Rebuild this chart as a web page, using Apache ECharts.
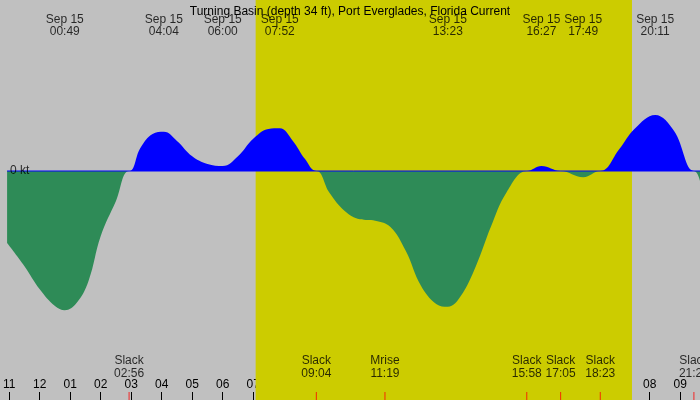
<!DOCTYPE html>
<html><head><meta charset="utf-8">
<script src="https://cdn.jsdelivr.net/npm/echarts@6/dist/echarts.min.js"></script>
<style>html,body{margin:0;padding:0;}#c{width:700px;height:400px;}</style>
</head><body><div id="c"></div>
<script>
// current speed curve (hour of day, kt)
const hours = [-1.07,-0.5,0,0.5,0.82,1.2,1.6,2.0,2.5,2.93,3.3,3.7,4.07,4.5,5.0,5.5,6.0,6.5,7.0,7.5,7.87,8.3,8.7,9.07,9.5,10.0,10.5,11.0,11.5,12.0,12.5,13.0,13.38,13.8,14.3,14.8,15.3,15.97,16.45,17.08,17.82,18.38,19.0,19.5,20.18,20.8,21.45,21.65];
const speeds = [-1.03,-1.36,-1.69,-1.93,-1.99,-1.89,-1.57,-0.93,-0.43,0,0.33,0.53,0.56,0.43,0.21,0.10,0.07,0.21,0.46,0.60,0.61,0.43,0.17,0,-0.31,-0.57,-0.69,-0.71,-0.80,-1.14,-1.64,-1.90,-1.94,-1.79,-1.36,-0.79,-0.31,0,0.07,0,-0.09,0,0.31,0.60,0.80,0.57,0,-0.14];
// top labels: max/min current times
const extremeLabels = ['00:49','04:04','06:00','07:52','13:23','16:27','17:49','20:11'];
const extremeHours = [0.82,4.07,6.0,7.87,13.38,16.45,17.82,20.18];
// bottom events
const eventNames = ['Slack','Slack','Mrise','Slack','Slack','Slack','Slack'];
const eventLabels = ['02:56','09:04','11:19','15:58','17:05','18:23','21:27'];
const eventHours = [2.93,9.07,11.32,15.97,17.08,18.38,21.45];
const tickHours = [-1,0,1,2,3,4,5,6,7,8,9,10,11,12,13,14,15,16,17,18,19,20,21];
const dayStart = 7.08, dayEnd = 19.42;
const title = 'Turning Basin (depth 34 ft), Port Everglades, Florida Current';

const PX = 70, Z = 171;
const yOf = p => (Z - p) / PX;
const font = '"Liberation Sans", "DejaVu Sans", sans-serif';
const hl = h => { const v = ((h % 12) + 12) % 12; return String(v === 0 ? 12 : v).padStart(2, '0'); };
const pos = hours.map((h, i) => [h, Math.max(speeds[i], 0)]);
const neg = hours.map((h, i) => [h, Math.min(speeds[i], 0)]);

const chart = echarts.init(document.getElementById('c'));
chart.setOption({
  animation: false,
  backgroundColor: '#c0c0c0',
  textStyle: { fontFamily: font },
  title: { text: title, left: 'center', top: 1, textStyle: { fontSize: 12, fontWeight: 'normal', color: '#000', fontFamily: font } },
  grid: { left: 0, right: 0, top: 0, bottom: 0 },
  xAxis: {
    type: 'value', min: -1.07, max: 21.65,
    splitLine: { show: false }, axisLine: { show: false, onZero: false },
    axisTick: { show: true, inside: true, length: 8, customValues: tickHours, lineStyle: { color: '#000' } },
    axisLabel: { show: true, inside: true, margin: 9, customValues: tickHours, formatter: v => hl(Math.round(v)), color: '#000', fontSize: 12, fontFamily: font }
  },
  yAxis: { type: 'value', min: yOf(400), max: yOf(0), show: false, splitLine: { show: false }, axisLine: { onZero: false } },
  series: [
    {
      type: 'line', smooth: 0.4, symbol: 'none', data: pos,
      lineStyle: { width: 0 }, areaStyle: { opacity: 1, color: '#0000ff' },
      markArea: { silent: true, itemStyle: { color: '#cccc00' }, data: [[{ xAxis: dayStart }, { xAxis: dayEnd }]] },
      z: 2
    },
    {
      type: 'line', smooth: 0.4, symbol: 'none', data: neg,
      lineStyle: { width: 0 }, areaStyle: { opacity: 1, color: '#2e8b57' }, z: 2
    },
    {
      type: 'line', symbol: 'none', data: [[-1.07, 0], [21.65, 0]],
      lineStyle: { width: 1, color: '#0000ff' }, z: 3, silent: true
    },
    {
      type: 'scatter', symbolSize: 0, silent: true, z: 5,
      data: extremeHours.map(h => [h, yOf(26)]),
      label: { show: true, position: 'inside', color: '#000', fontSize: 12, lineHeight: 12, fontFamily: font,
        formatter: p => 'Sep 15\n' + extremeLabels[p.dataIndex] }
    },
    {
      type: 'scatter', symbolSize: 0, silent: true, z: 5,
      data: eventHours.map(h => [h, yOf(367)]),
      label: { show: true, position: 'inside', color: '#000', fontSize: 12, lineHeight: 13, fontFamily: font,
        formatter: p => eventNames[p.dataIndex] + '\n' + eventLabels[p.dataIndex] }
    },
    {
      type: 'scatter', symbol: 'rect', symbolSize: [1, 8], silent: true, z: 6,
      data: eventHours.map(h => [h, yOf(396)]), itemStyle: { color: '#ff0000' }
    },
    {
      type: 'scatter', symbolSize: 0, silent: true, z: 5,
      data: [[-1.07, 0]],
      label: { show: true, position: 'right', offset: [-2, 0], formatter: '0 kt', color: '#000', fontSize: 12, fontFamily: font }
    }
  ]
});
</script></body></html>
